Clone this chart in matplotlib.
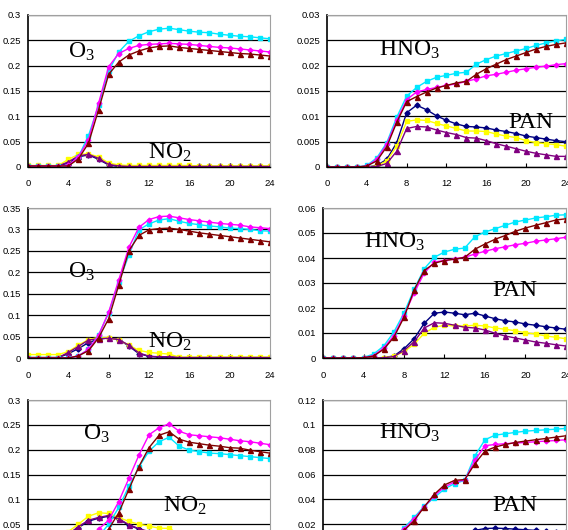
"""Six panel O3 / NO2 / HNO3 / PAN time series (bottom row cut off)"""
import matplotlib
matplotlib.use('Agg')
import matplotlib.pyplot as plt
import numpy as np

plt.rcParams['font.family'] = ['Liberation Sans', 'DejaVu Sans']
plt.rcParams['mathtext.fontset'] = 'custom'
plt.rcParams['mathtext.rm'] = 'Liberation Serif'
plt.rcParams['mathtext.default'] = 'regular'

hours = list(range(25))
x_ticks = [0, 4, 8, 12, 16, 20, 24]

# ---------------- row 1 ----------------
# O3 / NO2 (left)
o3_cyan_1 = [0.002, 0.002, 0.002, 0.002, 0.002, 0.02, 0.062, 0.122, 0.19, 0.227, 0.248, 0.259, 0.267,
             0.272, 0.274, 0.271, 0.268, 0.266, 0.265, 0.262, 0.26, 0.258, 0.257, 0.255, 0.253]
o3_mag_1 = [0.002, 0.002, 0.002, 0.002, 0.003, 0.02, 0.054, 0.126, 0.198, 0.224, 0.234, 0.24, 0.242,
            0.243, 0.244, 0.243, 0.242, 0.24, 0.238, 0.236, 0.235, 0.233, 0.231, 0.229, 0.227]
o3_red_1 = [0.002, 0.002, 0.002, 0.002, 0.002, 0.016, 0.047, 0.113, 0.183, 0.207, 0.221, 0.229, 0.235,
            0.238, 0.239, 0.236, 0.234, 0.232, 0.23, 0.228, 0.226, 0.224, 0.223, 0.221, 0.219]
no2_yel_1 = [0.003, 0.003, 0.003, 0.003, 0.015, 0.025, 0.026, 0.02, 0.008, 0.004, 0.003, 0.003, 0.003,
             0.003, 0.003, 0.003, 0.003, 0.002, 0.002, 0.002, 0.002, 0.002, 0.002, 0.002, 0.002]
no2_pur_1 = [0.002, 0.002, 0.002, 0.002, 0.01, 0.022, 0.025, 0.017, 0.005, 0.002, 0.001, 0.001, 0.001,
             0.001, 0.001, 0.001, 0.001, 0.001, 0.001, 0.001, 0.001, 0.001, 0.001, 0.001, 0.001]
no2_navy_1 = [0.002, 0.002, 0.002, 0.002, 0.008, 0.02, 0.024, 0.015, 0.004, 0.001, 0.001, 0.001, 0.001,
              0.001, 0.001, 0.001, 0.001, 0.001, 0.001, 0.001, 0.001, 0.001, 0.001, 0.001, 0.001]
# HNO3 / PAN (right)
hno3_cyan_1 = [0, 0, 0, 0, 0.0003, 0.0018, 0.0048, 0.0098, 0.014, 0.0157, 0.0169, 0.0177, 0.0181,
               0.0185, 0.0187, 0.0203, 0.0212, 0.0219, 0.0224, 0.0229, 0.0234, 0.024, 0.0245, 0.0249, 0.0252]
hno3_red_1 = [0, 0, 0, 0, 0.0002, 0.0012, 0.004, 0.0088, 0.0129, 0.0139, 0.0148, 0.0156, 0.0161,
              0.0166, 0.0169, 0.0183, 0.0194, 0.0203, 0.0212, 0.0219, 0.0226, 0.0233, 0.0238, 0.0242, 0.0245]
hno3_mag_1 = [0, 0, 0, 0, 0.0002, 0.0015, 0.0045, 0.0092, 0.0133, 0.0148, 0.0153, 0.0157, 0.0161,
              0.0164, 0.0169, 0.0174, 0.018, 0.0183, 0.0187, 0.0191, 0.0194, 0.0197, 0.0199, 0.0202, 0.0204]
pan_navy_1 = [0, 0, 0, 0, 0, 0.0003, 0.0015, 0.0048, 0.0107, 0.0122, 0.0113, 0.0101, 0.0092,
              0.0085, 0.008, 0.0079, 0.0077, 0.0073, 0.007, 0.0066, 0.0061, 0.0058, 0.0055, 0.0052, 0.005]
pan_yel_1 = [0, 0, 0, 0, 0, 0.0002, 0.0012, 0.0041, 0.009, 0.0093, 0.0092, 0.0086, 0.0081,
             0.0076, 0.0071, 0.0071, 0.007, 0.0065, 0.0061, 0.0058, 0.0052, 0.0048, 0.0046, 0.0044, 0.0041]
pan_pur_1 = [0, 0, 0, 0, 0, 0.0001, 0.0007, 0.0031, 0.0076, 0.008, 0.0079, 0.0073, 0.0068,
             0.0064, 0.0058, 0.0057, 0.0052, 0.0046, 0.0041, 0.0036, 0.0031, 0.0027, 0.0024, 0.0021, 0.0021]

# ---------------- row 2 ----------------
o3_cyan_2 = [0, 0, 0, 0, 0, 0.005, 0.02, 0.054, 0.105, 0.177, 0.24, 0.299, 0.313,
             0.322, 0.325, 0.319, 0.314, 0.311, 0.308, 0.306, 0.303, 0.302, 0.3, 0.297, 0.296]
o3_mag_2 = [0, 0, 0, 0, 0, 0.005, 0.02, 0.053, 0.107, 0.182, 0.258, 0.305, 0.323,
            0.33, 0.331, 0.327, 0.323, 0.32, 0.317, 0.314, 0.312, 0.31, 0.306, 0.304, 0.302]
o3_red_2 = [0, 0, 0, 0, 0, 0.005, 0.017, 0.047, 0.092, 0.17, 0.25, 0.286, 0.299,
            0.302, 0.303, 0.3, 0.296, 0.292, 0.289, 0.286, 0.283, 0.28, 0.277, 0.274, 0.271]
no2_yel_2 = [0.008, 0.008, 0.008, 0.008, 0.015, 0.03, 0.043, 0.048, 0.047, 0.042, 0.03, 0.018, 0.013,
             0.011, 0.009, 0.002, 0.002, 0.002, 0.002, 0.002, 0.002, 0.002, 0.002, 0.002, 0.002]
no2_pur_2 = [0.001, 0.001, 0.001, 0.001, 0.013, 0.027, 0.042, 0.045, 0.046, 0.043, 0.03, 0.012, 0.004,
             0.003, 0.003, 0.001, 0.001, 0.001, 0.001, 0.001, 0.001, 0.001, 0.001, 0.001, 0.001]
no2_navy_2 = [0.001, 0.001, 0.001, 0.001, 0.01, 0.022, 0.036, 0.044, 0.047, 0.043, 0.028, 0.01, 0.004,
              0.002, 0.002, 0.001, 0.001, 0.001, 0.001, 0.001, 0.001, 0.001, 0.001, 0.001, 0.001]
hno3_cyan_2 = [0, 0, 0, 0, 0.0002, 0.0016, 0.0048, 0.0104, 0.018, 0.0275, 0.0357, 0.0403, 0.0424,
               0.0435, 0.044, 0.0485, 0.0504, 0.0517, 0.0531, 0.0544, 0.0552, 0.056, 0.0565, 0.0571, 0.0573]
hno3_red_2 = [0, 0, 0, 0, 0.0001, 0.0008, 0.0035, 0.0083, 0.0163, 0.0272, 0.035, 0.0379, 0.039,
              0.0395, 0.0403, 0.0435, 0.0456, 0.0475, 0.049, 0.0507, 0.052, 0.0531, 0.0541, 0.0552, 0.0557]
hno3_mag_2 = [0, 0, 0, 0, 0.0001, 0.001, 0.004, 0.009, 0.017, 0.026, 0.034, 0.0384, 0.039,
              0.0397, 0.0403, 0.0416, 0.0427, 0.0437, 0.0445, 0.0453, 0.0459, 0.0467, 0.0472, 0.0477, 0.0483]
pan_navy_2 = [0, 0, 0, 0, 0, 0, 0.0002, 0.0008, 0.0037, 0.0077, 0.0139, 0.0179, 0.0184,
              0.0179, 0.0173, 0.0179, 0.0168, 0.0157, 0.0149, 0.0144, 0.0136, 0.0131, 0.0125, 0.012, 0.0115]
pan_yel_2 = [0, 0, 0, 0, 0, 0, 0.0001, 0.0007, 0.0025, 0.0055, 0.0099, 0.0123, 0.0131,
             0.0128, 0.0128, 0.0131, 0.0128, 0.012, 0.0115, 0.0109, 0.0101, 0.0096, 0.0088, 0.0083, 0.0077]
pan_pur_2 = [0, 0, 0, 0, 0, 0, 0.0001, 0.0006, 0.003, 0.0065, 0.012, 0.0141, 0.0139,
             0.0131, 0.0123, 0.012, 0.0112, 0.0099, 0.0088, 0.008, 0.0072, 0.0064, 0.0059, 0.0053, 0.0048]

# ---------------- row 3 (cut off at the bottom) ----------------
o3_cyan_3 = [0, 0, 0, 0, 0, 0.004, 0.01, 0.025, 0.05, 0.0836, 0.126, 0.165, 0.197,
             0.216, 0.225, 0.207, 0.199, 0.196, 0.193, 0.192, 0.19, 0.188, 0.186, 0.184, 0.182]
o3_mag_3 = [0, 0, 0, 0, 0, 0.006, 0.015, 0.04, 0.058, 0.0956, 0.142, 0.189, 0.23,
            0.244, 0.252, 0.237, 0.23, 0.228, 0.226, 0.224, 0.221, 0.218, 0.216, 0.213, 0.21]
o3_red_3 = [0, 0, 0, 0, 0, 0.003, 0.008, 0.02, 0.04, 0.073, 0.12, 0.166, 0.204,
            0.229, 0.236, 0.221, 0.215, 0.212, 0.209, 0.207, 0.204, 0.203, 0.199, 0.196, 0.193]
no2_yel_3 = [0.005, 0.005, 0.005, 0.005, 0.035, 0.05, 0.066, 0.073, 0.0715, 0.0635, 0.0555, 0.05, 0.046,
             0.042, 0.0415, 0.03, 0.02, 0.012, 0.008, 0.006, 0.005, 0.005, 0.005, 0.005, 0.005]
no2_pur_3 = [0.002, 0.002, 0.002, 0.002, 0.03, 0.045, 0.058, 0.0635, 0.0675, 0.061, 0.049, 0.041, 0.035,
             0.028, 0.022, 0.015, 0.01, 0.006, 0.004, 0.003, 0.002, 0.002, 0.002, 0.002, 0.002]
no2_navy_3 = [0.002, 0.002, 0.002, 0.002, 0.028, 0.043, 0.056, 0.062, 0.066, 0.06, 0.048, 0.04, 0.034,
              0.027, 0.021, 0.014, 0.009, 0.006, 0.004, 0.003, 0.002, 0.002, 0.002, 0.002, 0.002]
hno3_cyan_3 = [0, 0, 0, 0, 0, 0.001, 0.003, 0.008, 0.017, 0.0254, 0.0345, 0.0414, 0.0484,
               0.0527, 0.0553, 0.0751, 0.088, 0.0917, 0.0928, 0.0939, 0.0949, 0.0955, 0.096, 0.0965, 0.0971]
hno3_red_3 = [0, 0, 0, 0, 0, 0.001, 0.003, 0.008, 0.015, 0.0227, 0.034, 0.0441, 0.0516,
              0.0553, 0.0559, 0.0687, 0.0789, 0.0821, 0.0842, 0.0858, 0.0869, 0.088, 0.089, 0.0901, 0.0912]
hno3_mag_3 = [0, 0, 0, 0, 0, 0.001, 0.003, 0.008, 0.016, 0.024, 0.034, 0.043, 0.05,
              0.054, 0.0555, 0.0714, 0.0832, 0.0842, 0.0848, 0.0853, 0.0858, 0.0864, 0.0869, 0.0874, 0.088]
pan_navy_3 = [0, 0, 0, 0, 0, 0, 0.001, 0.002, 0.004, 0.006, 0.008, 0.01, 0.011,
              0.012, 0.013, 0.015, 0.0165, 0.0168, 0.0165, 0.016, 0.0155, 0.015, 0.0145, 0.014, 0.0135]
pan_yel_3 = [0, 0, 0, 0, 0, 0, 0.001, 0.002, 0.003, 0.005, 0.007, 0.009, 0.01,
             0.011, 0.012, 0.013, 0.014, 0.0138, 0.0134, 0.013, 0.0125, 0.012, 0.0115, 0.011, 0.0105]
pan_pur_3 = [0, 0, 0, 0, 0, 0, 0.001, 0.002, 0.003, 0.005, 0.007, 0.009, 0.01,
             0.011, 0.012, 0.0125, 0.013, 0.0125, 0.012, 0.0112, 0.0105, 0.0098, 0.009, 0.0083, 0.0076]

# y axis max / step for each panel
left_ylims = [(0.3, 0.05), (0.35, 0.05), (0.3, 0.05)]
right_ylims = [(0.03, 0.005), (0.06, 0.01), (0.12, 0.02)]

# colours (Excel style)
CYAN = '#00e8ff'
MAG = '#ff00ff'
RED = '#800000'
NAVY = '#000080'
YEL = '#ffff00'
PUR = '#800080'


def fmt(v):
    return '0' if v == 0 else ('%.3f' % v).rstrip('0')


def setup_axes(ax, ymax, ystep):
    ax.set_xlim(0, 24)
    ax.set_ylim(0, ymax)
    yt = np.round(np.arange(0, ymax + ystep / 2, ystep), 4)
    ax.set_yticks(yt)
    ax.set_yticklabels([fmt(v) for v in yt])
    ax.set_xticks(x_ticks)
    ax.yaxis.grid(True, color='black', lw=0.9)
    ax.set_axisbelow(True)
    ax.tick_params(axis='y', length=0, pad=5, labelsize=6.8)
    ax.tick_params(axis='x', direction='in', length=3, width=0.8, pad=9, labelsize=6.8)
    ax.spines['left'].set_linewidth(1.2)
    ax.spines['bottom'].set_linewidth(1.0)
    ax.spines['top'].set_color('#a0a0a0')
    ax.spines['right'].set_color('#a0a0a0')


def draw_six(ax, cy, mg, rd, nv, ye, pu):
    # minor species first, then the three big curves on top
    ax.plot(hours, nv, color=NAVY, marker='D', markersize=2.6, lw=1.0)
    ax.plot(hours, ye, color=YEL, marker='s', markersize=3.4, lw=1.0)
    ax.plot(hours, pu, color=PUR, marker='^', markersize=3.6, lw=1.0)
    ax.plot(hours, cy, color=CYAN, marker='s', markersize=3.4, lw=1.0)
    ax.plot(hours, mg, color=MAG, marker='D', markersize=2.4, lw=1.0)
    ax.plot(hours, rd, color=RED, marker='^', markersize=3.6, lw=1.0)


def label(ax, x, y, s):
    ax.text(x, y, s, transform=ax.transAxes, fontsize=17, family='Liberation Serif', va='baseline')


fig = plt.figure(figsize=(5.68, 5.30), dpi=100)

W, H = 568.0, 530.0
# pixel boxes (left, right, top, bottom)
left_boxes = [(28, 270, 15, 167), (28, 270, 208, 358), (28, 270, 400, 549)]
right_boxes = [(327, 566, 15, 167), (323, 566, 208, 358), (323, 566, 400, 549)]

o3_sets = [(o3_cyan_1, o3_mag_1, o3_red_1, no2_navy_1, no2_yel_1, no2_pur_1),
           (o3_cyan_2, o3_mag_2, o3_red_2, no2_navy_2, no2_yel_2, no2_pur_2),
           (o3_cyan_3, o3_mag_3, o3_red_3, no2_navy_3, no2_yel_3, no2_pur_3)]
hno3_sets = [(hno3_cyan_1, hno3_mag_1, hno3_red_1, pan_navy_1, pan_yel_1, pan_pur_1),
             (hno3_cyan_2, hno3_mag_2, hno3_red_2, pan_navy_2, pan_yel_2, pan_pur_2),
             (hno3_cyan_3, hno3_mag_3, hno3_red_3, pan_navy_3, pan_yel_3, pan_pur_3)]

# label positions (axes fraction)
o3_pos = [(0.165, 0.72), (0.165, 0.533), (0.227, 0.732)]
no2_pos = [(0.496, 0.053), (0.496, 0.067), (0.558, 0.248)]
hno3_pos = [(0.218, 0.73), (0.169, 0.733), (0.23, 0.738)]
pan_pos = [(0.757, 0.257), (0.695, 0.413), (0.695, 0.255)]

for r in range(3):
    # left: O3 + NO2
    l, rr, t, b = left_boxes[r]
    ax = fig.add_axes([l / W, (H - b) / H, (rr - l) / W, (b - t) / H])
    setup_axes(ax, *left_ylims[r])
    draw_six(ax, *o3_sets[r])
    label(ax, *o3_pos[r], r'O$_3$')
    label(ax, *no2_pos[r], r'NO$_2$')

    # right: HNO3 + PAN
    l, rr, t, b = right_boxes[r]
    ax = fig.add_axes([l / W, (H - b) / H, (rr - l) / W, (b - t) / H])
    setup_axes(ax, *right_ylims[r])
    draw_six(ax, *hno3_sets[r])
    label(ax, *hno3_pos[r], r'HNO$_3$')
    label(ax, *pan_pos[r], 'PAN')

fig.savefig('out.png', dpi=100)
